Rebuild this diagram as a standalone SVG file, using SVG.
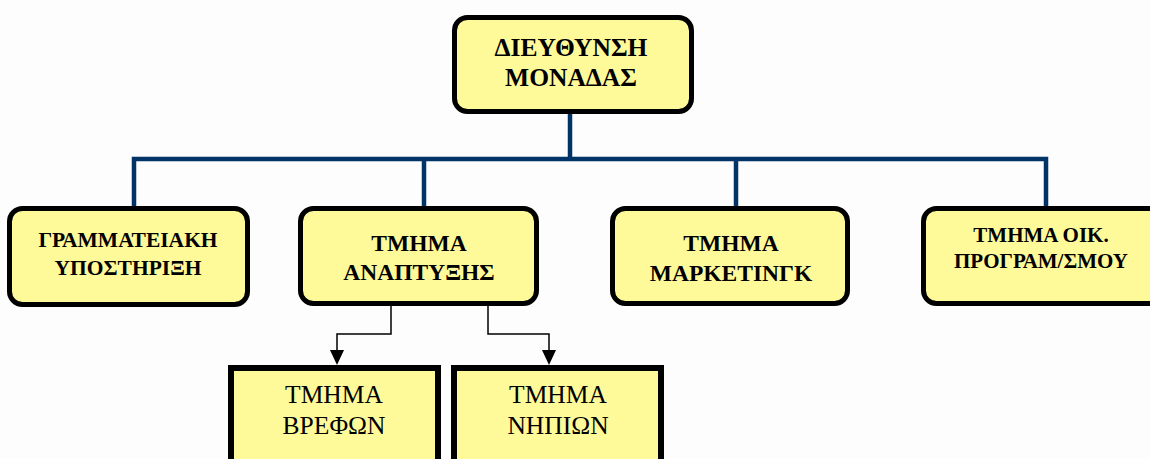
<svg xmlns="http://www.w3.org/2000/svg" width="1150" height="459" viewBox="0 0 1150 459">
<defs>
<style>
.box{fill:#FFFA99;stroke:#000;stroke-width:5}
.sq{fill:#FFFA99;stroke:#000;stroke-width:6}
.t{font-family:"Liberation Serif","Times New Roman",serif;font-weight:bold;fill:#000;text-anchor:middle}
.n{font-family:"Liberation Serif","Times New Roman",serif;font-weight:normal;fill:#000;text-anchor:middle}
.blue{fill:none;stroke:#003366;stroke-width:4.5}
.thin{fill:none;stroke:#000;stroke-width:1.5}
</style>
</defs>
<rect width="1150" height="459" fill="#fdfdfd"/>
<g id="connectors">
<path class="blue" d="M570,113 V159"/>
<path class="blue" d="M134,206 V159 H1046 V206"/>
<path class="blue" d="M424,159 V206"/>
<path class="blue" d="M736,159 V206"/>
<path class="thin" d="M391,305 V334 H337 V351"/>
<path d="M330,350 L344,350 L337,365 Z" fill="#000"/>
<path class="thin" d="M488,305 V334 H549 V351"/>
<path d="M542,350 L556,350 L549,365 Z" fill="#000"/>
</g>
<g id="n-dieythynsi">
<rect class="box" x="454.500" y="17.500" width="237" height="94" rx="13"/>
<text class="t" x="571" y="56" font-size="25.5">ΔΙΕΥΘΥΝΣΗ</text>
<text class="t" x="571" y="86" font-size="25.5">ΜΟΝΑΔΑΣ</text>
</g>
<g id="n-grammateiaki">
<rect class="box" x="9.500" y="208.500" width="238" height="96" rx="13"/>
<text class="t" x="128" y="247" font-size="21.5">ΓΡΑΜΜΑΤΕΙΑΚΗ</text>
<text class="t" x="128" y="275" font-size="21.5">ΥΠΟΣΤΗΡΙΞΗ</text>
</g>
<g id="n-anaptyxis">
<rect class="box" x="300.500" y="208.500" width="236" height="95" rx="13"/>
<text class="t" x="419" y="251" font-size="23.5">ΤΜΗΜΑ</text>
<text class="t" x="419" y="280" font-size="23.5">ΑΝΑΠΤΥΞΗΣ</text>
</g>
<g id="n-marketing">
<rect class="box" x="612.500" y="208.500" width="235" height="95" rx="13"/>
<text class="t" x="731" y="251" font-size="23.5">ΤΜΗΜΑ</text>
<text class="t" x="731" y="281" font-size="23.5">ΜΑΡΚΕΤΙΝΓΚ</text>
</g>
<g id="n-oik">
<rect class="box" x="923.500" y="208.500" width="240" height="95" rx="13"/>
<text class="t" x="1041" y="242" font-size="21">ΤΜΗΜΑ ΟΙΚ.</text>
<text class="t" x="1041" y="268" font-size="21">ΠΡΟΓΡΑΜ/ΣΜΟΥ</text>
</g>
<g id="n-vrefon">
<rect class="sq" x="231" y="368" width="207" height="100"/>
<text class="n" x="334" y="403" font-size="25.5">ΤΜΗΜΑ</text>
<text class="n" x="334" y="434" font-size="25.5">ΒΡΕΦΩΝ</text>
</g>
<g id="n-nipion">
<rect class="sq" x="454" y="368" width="207" height="100"/>
<text class="n" x="558" y="403" font-size="25.5">ΤΜΗΜΑ</text>
<text class="n" x="558" y="434" font-size="25.5">ΝΗΠΙΩΝ</text>
</g>
</svg>
